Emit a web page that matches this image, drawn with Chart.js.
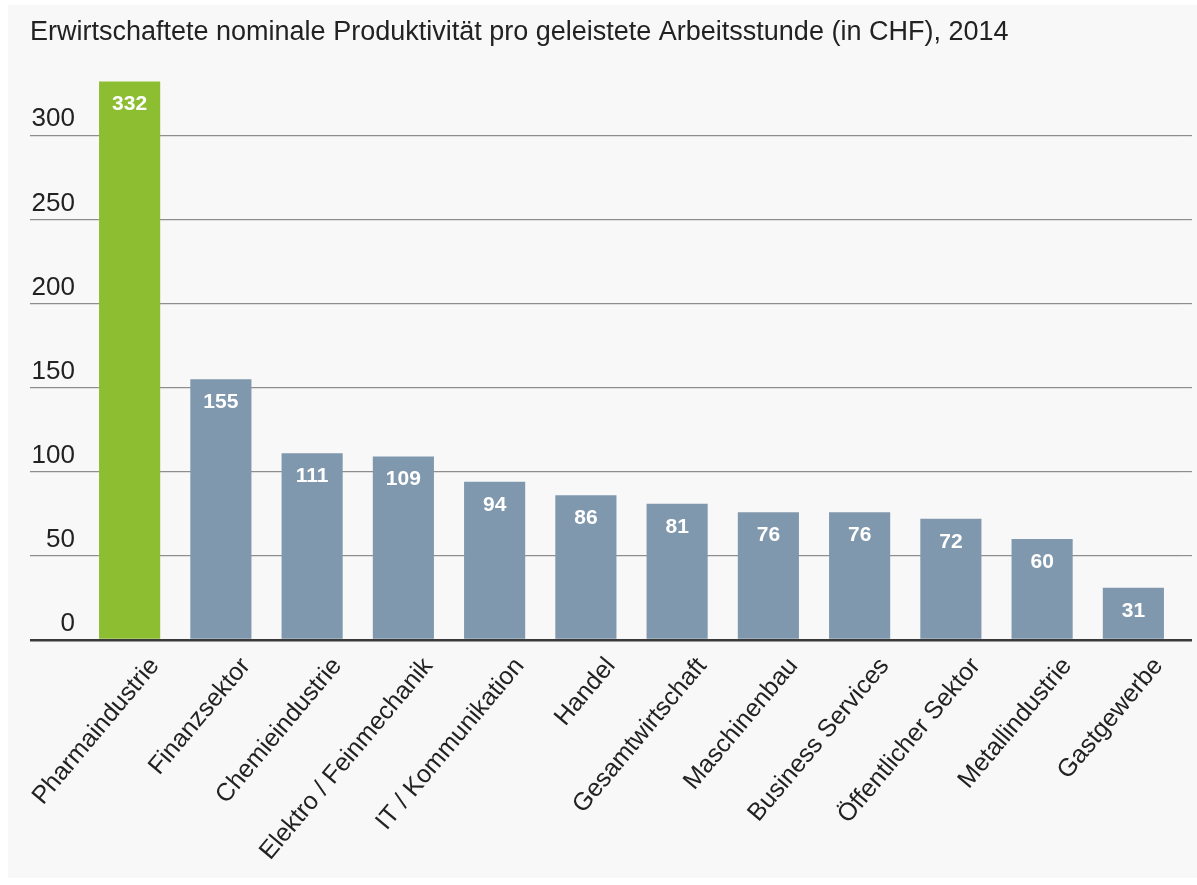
<!DOCTYPE html>
<html>
<head>
<meta charset="utf-8">
<script src="https://cdn.jsdelivr.net/npm/chart.js@4/dist/chart.umd.min.js"></script>
<style>
  body { margin: 0; background: #fff; }
  #wrap { position: absolute; left: 8px; top: 5px; width: 1189px; height: 873px; background: #f8f8f8; }
</style>
</head>
<body>
<div id="wrap"><canvas id="prod_chart" width="1189" height="873"></canvas></div>
<script>
var sectors = ['Pharmaindustrie', 'Finanzsektor', 'Chemieindustrie', 'Elektro / Feinmechanik',
    'IT / Kommunikation', 'Handel', 'Gesamtwirtschaft', 'Maschinenbau', 'Business Services',
    'Öffentlicher Sektor', 'Metallindustrie', 'Gastgewerbe'];
var productivity = [332, 155, 111, 109, 94, 86, 81, 76, 76, 72, 60, 31];
var yTicks = [0, 50, 100, 150, 200, 250, 300];

var FONT = "'Liberation Sans', Helvetica, Arial, sans-serif";
var yMax = 335;

function gridColor(c) { return c.tick && c.tick.value === 0 ? '#3a3a3a' : '#8e8e8e'; }
function gridWidth(c) { return c.tick && c.tick.value === 0 ? 2.5 : 1.2; }

// white value labels inside the top of each bar
var valueLabels = {
    id: 'valueLabels',
    afterDatasetsDraw: function (chart) {
        var ctx = chart.ctx;
        var meta = chart.getDatasetMeta(0);
        ctx.save();
        ctx.fillStyle = '#ffffff';
        ctx.font = 'bold 21px ' + FONT;
        ctx.textAlign = 'center';
        ctx.textBaseline = 'middle';
        meta.data.forEach(function (bar, i) {
            ctx.fillText(productivity[i], bar.x, bar.y + 23);
        });
        ctx.restore();
    }
};

var ctx = document.getElementById('prod_chart').getContext('2d');
var chart = new Chart(ctx, {
    type: 'bar',
    data: {
        labels: sectors,
        datasets: [{
            data: productivity,
            backgroundColor: productivity.map(function (v, i) { return i === 0 ? '#8dbd31' : '#8098ae'; }),
            borderWidth: 0,
            barPercentage: 0.67,
            categoryPercentage: 1.0
        }]
    },
    options: {
        responsive: false,
        animation: false,
        layout: { padding: { left: 22, right: 5, top: 0, bottom: 0 } },
        plugins: {
            legend: { display: false },
            tooltip: { enabled: false },
            title: {
                display: true,
                text: 'Erwirtschaftete nominale Produktivität pro geleistete Arbeitsstunde (in CHF), 2014',
                align: 'start',
                color: '#222',
                font: { family: FONT, size: 27, weight: 'normal' },
                padding: { top: 11, bottom: 28 }
            }
        },
        scales: {
            x: {
                grid: { display: false, drawTicks: false },
                border: { display: false },
                ticks: {
                    autoSkip: false,
                    maxRotation: 50,
                    minRotation: 50,
                    padding: 12,
                    labelOffset: 25,
                    color: '#222',
                    font: { family: FONT, size: 25 }
                },
                afterFit: function (scale) {
                    scale.height = 238;
                    scale.paddingLeft = 0;
                    scale.paddingRight = 0;
                }
            },
            y: {
                min: 0,
                max: yMax,
                afterBuildTicks: function (scale) {
                    scale.ticks = yTicks.map(function (v) { return { value: v }; });
                },
                grid: { color: gridColor, lineWidth: gridWidth, tickLength: 54, drawTicks: true },
                border: { display: false },
                ticks: {
                    padding: -45,
                    labelOffset: -16,
                    color: '#222',
                    font: { family: FONT, size: 26 }
                },
                afterFit: function (scale) { scale.width = 54; }
            },
            y2: {
                display: true,
                position: 'right',
                min: 0,
                max: yMax,
                afterBuildTicks: function (scale) {
                    scale.ticks = yTicks.map(function (v) { return { value: v }; });
                },
                grid: { color: gridColor, lineWidth: gridWidth, tickLength: 13, drawOnChartArea: false },
                border: { display: false },
                ticks: { display: false },
                afterFit: function (scale) { scale.width = 13; }
            }
        }
    },
    plugins: [valueLabels]
});
</script>
</body>
</html>
